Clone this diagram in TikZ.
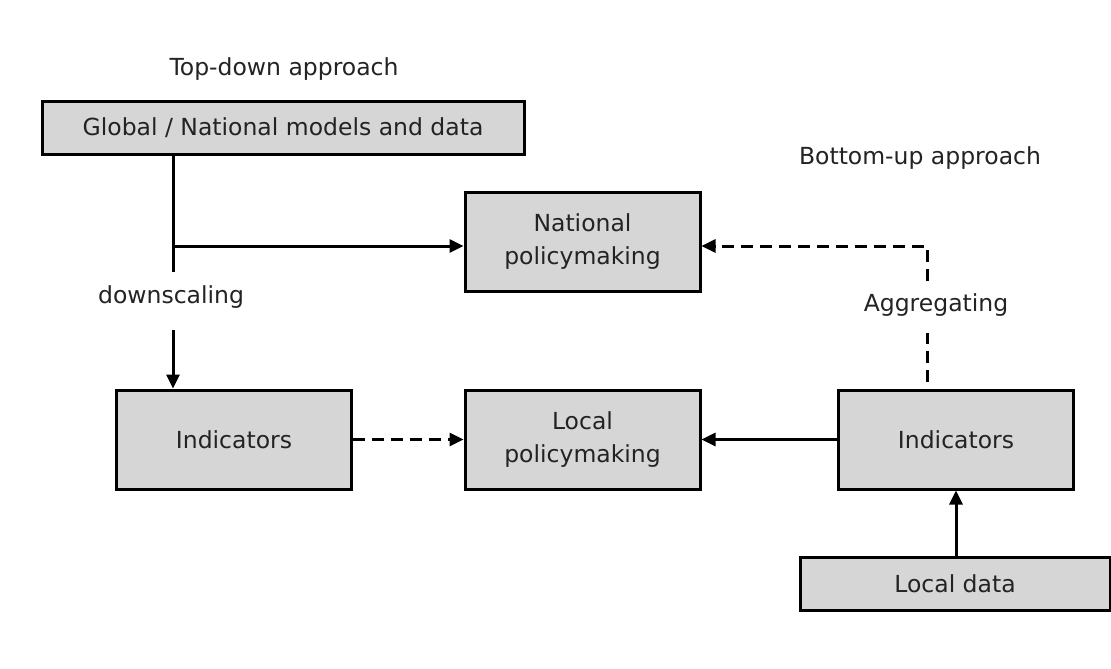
\documentclass[tikz,border=0pt]{standalone}
\usepackage{fontspec}
\setmainfont{DejaVu Sans}
\usetikzlibrary{arrows.meta}
\definecolor{boxgray}{RGB}{214,214,214}
\definecolor{inkgray}{RGB}{35,35,35}
\begin{document}
\begin{tikzpicture}[x=1pt,y=-1pt,
  box/.style={draw=black, line width=3pt, fill=boxgray, inner sep=0pt,
    align=center, text=inkgray, font=\fontsize{23.5}{33}\selectfont},
  lbl/.style={text=inkgray, font=\fontsize{23.5}{28}\selectfont},
  wire/.style={line width=3pt, draw=black},
  conn/.style={wire, -{Triangle[length=14pt,width=13pt]}},
  dashline/.style={dash pattern=on 12pt off 7pt}]
  \fill[white] (0,0) rectangle (1111,669);
  \useasboundingbox (0,0) rectangle (1111,669);

  % boxes
  \node[box, minimum width=482pt, minimum height=53pt] (glob) at (283,127.5) {Global / National models and data};
  \node[box, minimum width=235pt, minimum height=99pt] (natp) at (582.5,241.5) {National\\policymaking};
  \node[box, minimum width=235pt, minimum height=99pt] (indl) at (234,439.5) {Indicators};
  \node[box, minimum width=235pt, minimum height=99pt] (locp) at (582.5,439.5) {Local\\policymaking};
  \node[box, minimum width=235pt, minimum height=99pt] (indr) at (956,439.5) {Indicators};
  \node[box, minimum width=310pt, minimum height=53pt] (ldat) at (955,583.5) {Local data};

  % free labels
  \node[lbl] (tdown) at (284,69) {Top-down approach};
  \node[lbl] (bup) at (920,158) {Bottom-up approach};
  \node[lbl] (down) at (171,297) {downscaling};
  \node[lbl] (aggr) at (936,305) {Aggregating};

  % top-down branch
  \coordinate (split) at (173,246);
  \coordinate (dtop) at (173,272);
  \coordinate (dbot) at (173,330);
  \draw[wire] (glob.south -| split) -- (dtop);
  \draw[conn] (split) -- (split -| natp.west);
  \draw[conn] (dbot) -- (indl.north -| dbot);

  % local links
  \draw[conn, dashline] (indl.east) -- (locp.west);
  \draw[conn] (indr.west) -- (locp.east);
  \draw[conn] (ldat.north -| indr) -- (indr.south);

  % bottom-up aggregation
  \coordinate (acorner) at (927,246);
  \coordinate (atop) at (927,281);
  \coordinate (abot) at (927,333);
  \coordinate (abase) at (927,382);
  \draw[wire, dashline] (abase) -- (abot);
  \draw[conn, dashline] (atop) -- (acorner) -- (acorner -| natp.east);
\end{tikzpicture}
\end{document}
